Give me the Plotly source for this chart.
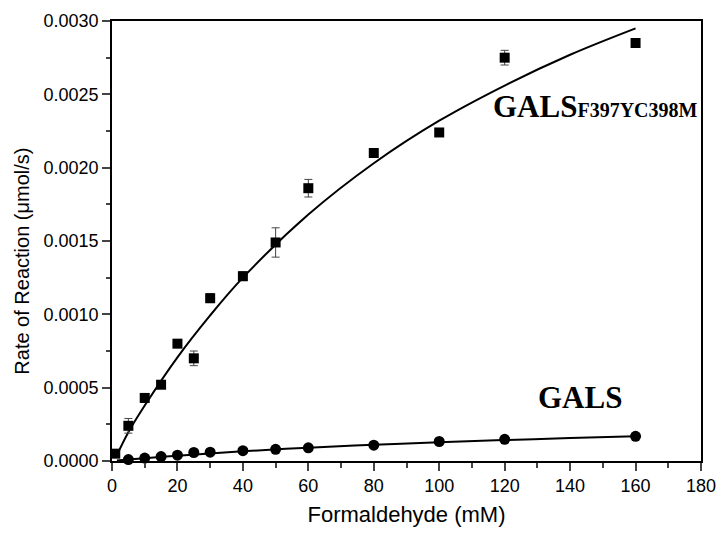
import plotly.graph_objects as go

# Measured data: GALS F397Y/C398M mutant (squares)
conc_mut = [1, 5, 10, 15, 20, 25, 30, 40, 50, 60, 80, 100, 120, 160]
rate_mut = [0.00005, 0.00024, 0.00043, 0.00052, 0.00080, 0.00070, 0.00111,
            0.00126, 0.00149, 0.00186, 0.00210, 0.00224, 0.00275, 0.00285]
err_mut = [0.00002, 0.00005, 0.00003, 0.00002, 0.00002, 0.00005, 0.00003,
           0.00003, 0.00010, 0.00006, 0.00002, 0.00002, 0.00005, 0.00003]

# Measured data: GALS wild type (circles)
conc_wt = [5, 10, 15, 20, 25, 30, 40, 50, 60, 80, 100, 120, 160]
rate_wt = [0.000010, 0.000020, 0.000030, 0.000040, 0.000058, 0.000060, 0.000070,
           0.000080, 0.000090, 0.000108, 0.000133, 0.000148, 0.000168]

# Fitted curves
fit_x = [1.5, 5, 10, 20, 30, 40, 60, 80, 100, 120, 140, 160]
fit_mut = [0.00004, 0.000196, 0.000378, 0.000707, 0.000993, 0.00125, 0.00168,
           0.00203, 0.00232, 0.00256, 0.00277, 0.00295]
fit_wt = [0.000003, 0.0000099, 0.0000192, 0.0000364, 0.0000519, 0.000066,
          0.0000909, 0.000111, 0.000128, 0.000143, 0.000156, 0.000168]

x_ticks = list(range(0, 181, 20))
y_ticks = [0.0, 0.0005, 0.0010, 0.0015, 0.0020, 0.0025, 0.0030]

label_mut = "<b>GALS<span style='font-size:20px'>F397YC398M</span></b>"
label_wt = "<b>GALS</b>"
y_title = "Rate of Reaction (μmol/s)"
x_title = "Formaldehyde (mM)"

fig = go.Figure()
fig.add_trace(go.Scatter(x=fit_x, y=fit_mut, mode="lines", line_shape="spline",
                         line=dict(color="black", width=2), showlegend=False))
fig.add_trace(go.Scatter(x=fit_x, y=fit_wt, mode="lines", line_shape="spline",
                         line=dict(color="black", width=2), showlegend=False))
fig.add_trace(go.Scatter(x=conc_mut, y=rate_mut, mode="markers",
                         marker=dict(symbol="square", size=10, color="black"),
                         error_y=dict(type="data", array=err_mut, color="#444444", thickness=1, width=4),
                         showlegend=False, cliponaxis=False))
fig.add_trace(go.Scatter(x=conc_wt, y=rate_wt, mode="markers",
                         marker=dict(symbol="circle", size=11, color="black"),
                         showlegend=False, cliponaxis=False))

fig.add_annotation(x=0.6435, y=0.806, xref="paper", yref="paper", xanchor="left", yanchor="middle",
                   text=label_mut, showarrow=False,
                   font=dict(family="Liberation Serif", size=31, color="black"))
fig.add_annotation(x=0.7946, y=0.144, xref="paper", yref="paper", xanchor="center", yanchor="middle",
                   text=label_wt, showarrow=False,
                   font=dict(family="Liberation Serif", size=31, color="black"))
fig.add_annotation(x=-0.153, y=0.455, xref="paper", yref="paper", xanchor="center", yanchor="middle",
                   text=y_title, textangle=-90, showarrow=False,
                   font=dict(family="Liberation Sans, Arial", size=20, color="black"))

fig.update_layout(
    width=718, height=534,
    margin=dict(l=112, r=17, t=21, b=73, autoexpand=False),
    plot_bgcolor="white", paper_bgcolor="white",
    font=dict(family="Liberation Sans, Arial", size=18, color="black"),
)
fig.update_xaxes(range=[0, 180], tickvals=x_ticks, ticks="outside", ticklen=8, tickwidth=1.5,
                 automargin=False,
                 showline=True, linecolor="black", linewidth=1.5, mirror=True, showgrid=False,
                 zeroline=False, minor=dict(dtick=10, ticks="outside", ticklen=5, tickwidth=1.5, showgrid=False),
                 title=dict(text=x_title, font=dict(size=22), standoff=11),
                 tickfont=dict(size=18))
fig.update_yaxes(range=[0, 0.003], tickvals=y_ticks, tickformat=".4f", ticks="outside", ticklen=8,
                 tickwidth=1.5, showline=True, linecolor="black", linewidth=1.5, mirror=True,
                 automargin=False,
                 showgrid=False, zeroline=False,
                 minor=dict(dtick=0.00025, ticks="outside", ticklen=4, tickwidth=1.5, showgrid=False),
                 tickfont=dict(size=18))

fig.write_html("out.html")
